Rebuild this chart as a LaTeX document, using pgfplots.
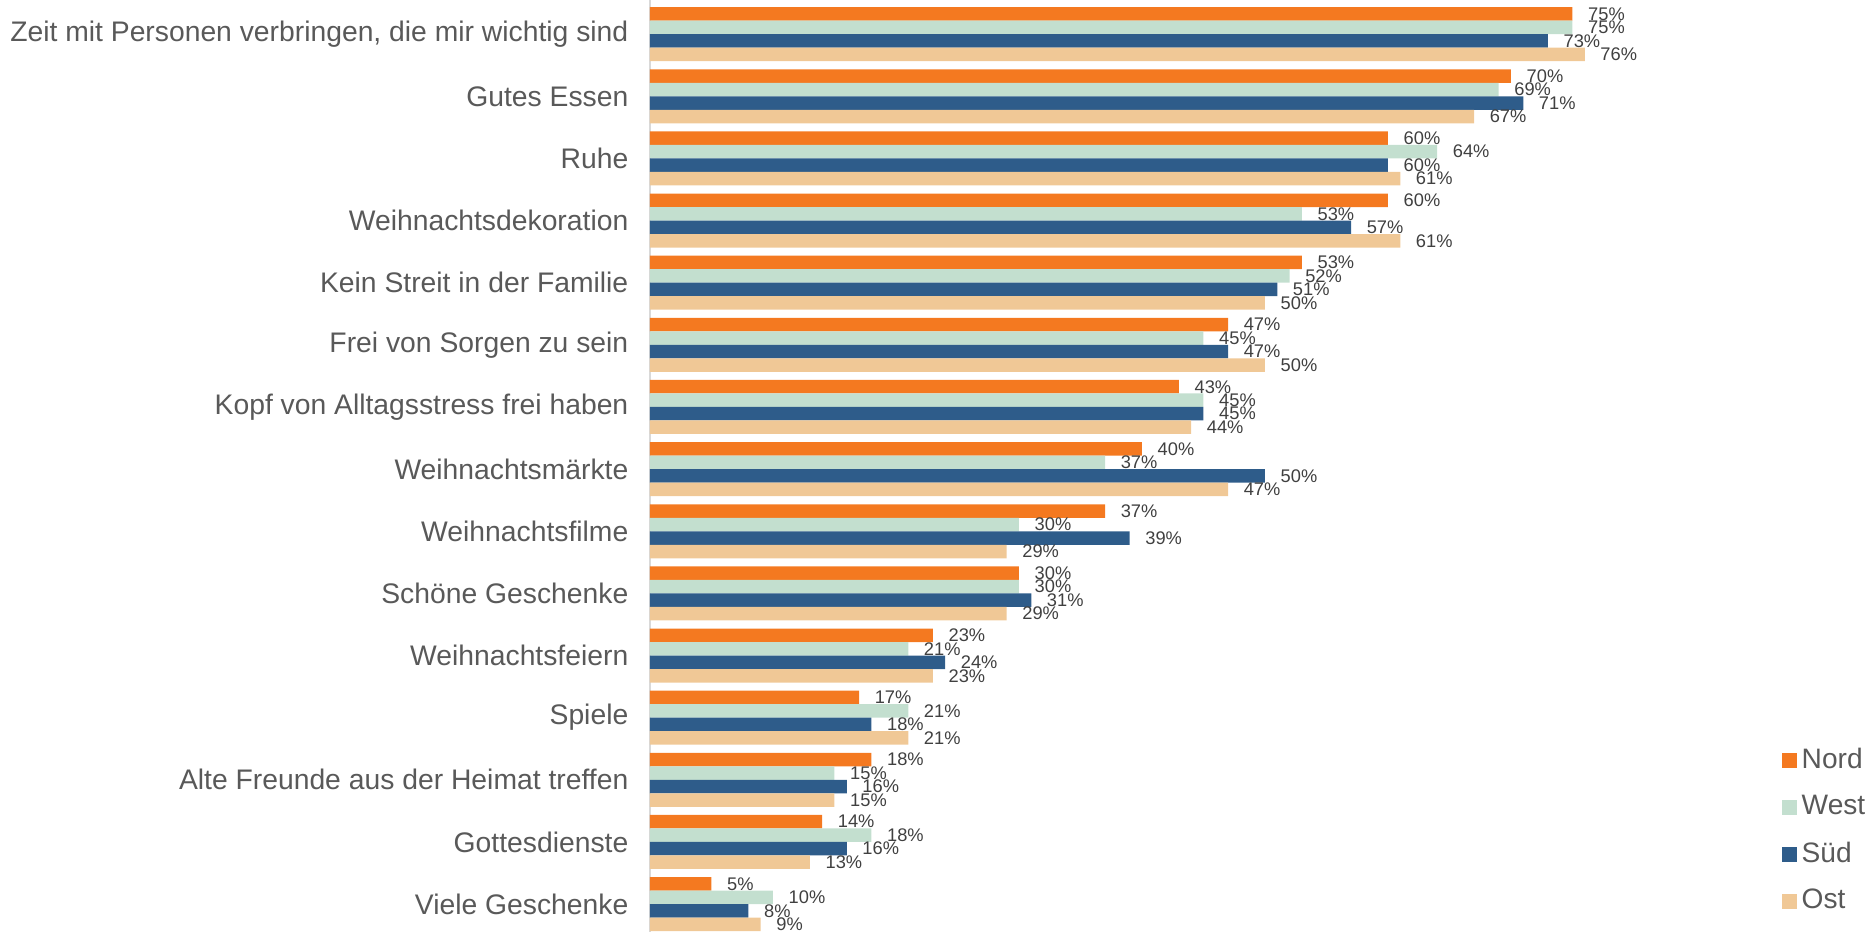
\documentclass[border=0pt]{standalone}
\usepackage{fontspec}
\setmainfont{Liberation Sans}
\usepackage{pgfplots}
\pgfplotsset{compat=1.18}
\definecolor{cNord}{HTML}{F47920}
\definecolor{cWest}{HTML}{C3DFCF}
\definecolor{cSued}{HTML}{2E5C8A}
\definecolor{cOst}{HTML}{F0C896}
\definecolor{txt}{HTML}{595959}
\definecolor{lbl}{HTML}{404040}
\begin{document}
\begin{tikzpicture}
\begin{axis}[
  at={(0,0)}, anchor=south west,
  scale only axis, width=104.55mm, height=93.2mm,
  xbar=0pt, bar width=1.35mm,
  xmin=0, xmax=85, ymin=-0.55, ymax=14.45, y dir=reverse,
  axis lines*=left,
  x axis line style={draw=none},
  y axis line style={draw=black!15, line width=0.8pt, -},
  xtick=\empty,
  ytick={0,...,14},
  major tick length=0pt,
  yticklabels={{Zeit mit Personen verbringen, die mir wichtig sind},{Gutes Essen},{Ruhe},{Weihnachtsdekoration},{Kein Streit in der Familie},{Frei von Sorgen zu sein},{Kopf von Alltagsstress frei haben},{Weihnachtsmärkte},{Weihnachtsfilme},{Schöne Geschenke},{Weihnachtsfeiern},{Spiele},{Alte Freunde aus der Heimat treffen},{Gottesdienste},{Viele Geschenke}},
  yticklabel style={font=\fontsize{8.05}{9}\selectfont, text=txt, inner sep=0pt, xshift=-2.1mm},
  /pgf/number format/assume math mode=true,
  point meta=x,
  nodes near coords={\pgfmathprintnumber[fixed,precision=0]{\pgfplotspointmeta}\%},
  nodes near coords style={font=\fontsize{5.2}{6}\selectfont, text=lbl, inner sep=0pt, xshift=1.5mm, anchor=west},
  legend style={at={(1.0818,0.2098)}, anchor=north west, draw=none, fill=none, inner sep=0pt,
    font=\fontsize{8}{9}\selectfont, text=txt, row sep=0pt,
    nodes={inner xsep=0.5mm, inner ysep=0pt, minimum height=4.7mm}},
  legend image code/.code={\path[#1] (0mm,-0.75mm) rectangle (1.5mm,0.75mm);},
  legend cell align=left,
]
\addplot[fill=cNord, draw=none, bar shift=2.025mm] coordinates {(75,0) (70,1) (60,2) (60,3) (53,4) (47,5) (43,6) (40,7) (37,8) (30,9) (23,10) (17,11) (18,12) (14,13) (5,14)};
\addplot[fill=cWest, draw=none, bar shift=0.675mm] coordinates {(75,0) (69,1) (64,2) (53,3) (52,4) (45,5) (45,6) (37,7) (30,8) (30,9) (21,10) (21,11) (15,12) (18,13) (10,14)};
\addplot[fill=cSued, draw=none, bar shift=-0.675mm] coordinates {(73,0) (71,1) (60,2) (57,3) (51,4) (47,5) (45,6) (50,7) (39,8) (31,9) (24,10) (18,11) (16,12) (16,13) (8,14)};
\addplot[fill=cOst, draw=none, bar shift=-2.025mm] coordinates {(76,0) (67,1) (61,2) (61,3) (50,4) (50,5) (44,6) (47,7) (29,8) (29,9) (23,10) (21,11) (15,12) (13,13) (9,14)};
\legend{Nord,West,Süd,Ost}
\end{axis}
\pgfresetboundingbox
\path[use as bounding box] (-65mm,0) rectangle (121.6mm,93.2mm);
\end{tikzpicture}
\end{document}
